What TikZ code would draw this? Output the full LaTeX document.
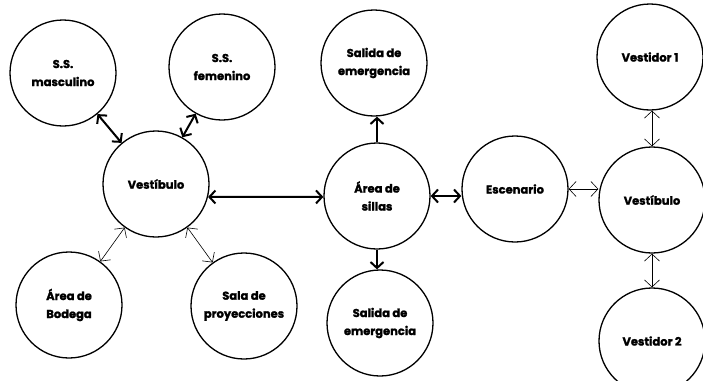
\documentclass[tikz,border=0pt]{standalone}
\usepackage{fontspec}
\setmainfont{Poppins}[BoldFeatures={FakeBold=1.5}]
\usetikzlibrary{arrows.meta}
\begin{document}
\begin{tikzpicture}[x=1pt,y=-1pt,
  room/.style={draw, circle, line width=1.3pt, minimum size=106pt, inner sep=0pt,
    align=center, font=\fontsize{11.5}{18}\selectfont\bfseries},
  thick link/.style={line width=2pt, {Straight Barb[length=6pt,width=13pt]}-{Straight Barb[length=6pt,width=13pt]}},
  thick out/.style={line width=2pt, -{Straight Barb[length=6pt,width=13pt]}},
  thin link/.style={line width=0.6pt, {Straight Barb[length=7pt,width=15pt]}-{Straight Barb[length=7pt,width=15pt]}}
]
\useasboundingbox (0,0) rectangle (703,380);
\node[room] (masc) at (63,73) {S.S.\\masculino};
\node[room] (fem) at (222,67) {S.S.\\femenino};
\node[room] (vest) at (156,184) {Vestíbulo};
\node[room] (bod) at (69,305) {Área de\\Bodega};
\node[room] (sala) at (244,306) {Sala de\\proyecciones};
\node[room] (sal1) at (374,63) {Salida de\\emergencia};
\node[room] (area) at (377,196) {Área de\\sillas};
\node[room] (sal2) at (380,323) {Salida de\\emergencia};
\node[room] (esc) at (515,189) {Escenario};
\node[room] (vestb) at (652,200) {Vestíbulo};
\node[room] (ves1) at (650,57) {Vestidor 1};
\node[room] (ves2) at (652,341) {Vestidor 2};

\draw[thick link] (masc) -- (vest);
\draw[thick link] (fem) -- (vest);
\draw[thick link] (vest.-14) -- (area.181);
\draw[thick out] (area.north) -- (area.north |- sal1.south);
\draw[thick out] (area.south) -- (area.south |- sal2.north);
\draw[thick link] (area.east) -- (area.east -| esc.west);
\draw[thin link] (esc.east) -- (esc.east -| vestb.west);
\draw[thin link] (vestb.north) -- (vestb.north |- ves1.south);
\draw[thin link] (vestb.south) -- (vestb.south |- ves2.north);
\draw[thin link] (vest) -- (bod);
\draw[thin link] (vest) -- (sala);
\end{tikzpicture}
\end{document}
